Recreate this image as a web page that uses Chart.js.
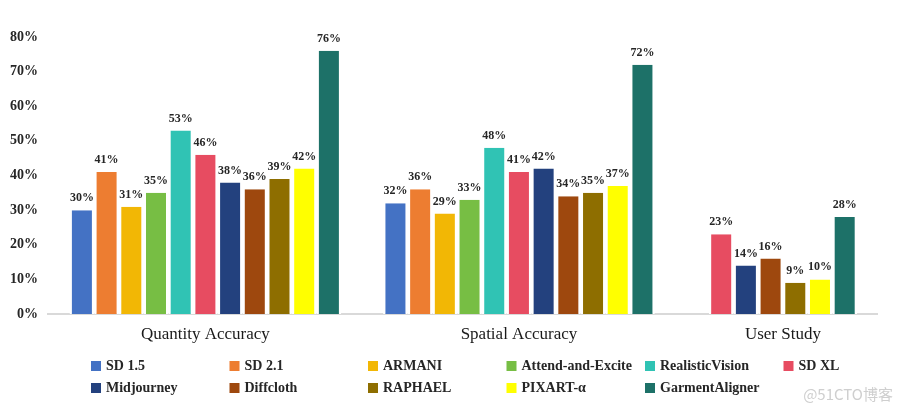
<!DOCTYPE html>
<html>
<head>
<meta charset="utf-8">
<script src="https://cdn.jsdelivr.net/npm/chart.js@4"></script>
<style>
  html, body { margin: 0; padding: 0; background: #fff; }
  #wrap { width: 901px; height: 414px; position: relative; }
</style>
</head>
<body>
<div id="wrap"><canvas id="chart"></canvas></div>
<script>
const categories = ["Quantity Accuracy", "Spatial Accuracy", "User Study"];

const models = [
    "SD 1.5", "SD 2.1", "ARMANI", "Attend-and-Excite", "RealisticVision", "SD XL",
    "Midjourney", "Diffcloth", "RAPHAEL", "PIXART-α", "GarmentAligner"
];

// percent, one entry per model
const quantityAccuracy = [30, 41, 31, 35, 53, 46, 38, 36, 39, 42, 76];
const spatialAccuracy  = [32, 36, 29, 33, 48, 41, 42, 34, 35, 37, 72];
const userStudy        = [null, null, null, null, null, 23, 14, 16, 9, 10, 28];

const colors = [
    "#4472C4", "#ED7D31", "#F2B705", "#77BE44", "#30C3B4", "#E74C61",
    "#23417E", "#9E480E", "#8E6E00", "#FFFF00", "#1D7168"
];

// where each group sits on the x axis (user study group is packed closer)
const groupPos = [0, 1, 1.842];

const FONT = "'Liberation Serif', serif";

const byCategory = [quantityAccuracy, spatialAccuracy, userStudy];

const datasets = models.map((name, i) => ({
    label: name,
    data: groupPos.map((x, c) => ({ x: x, y: byCategory[c][i] })),
    backgroundColor: colors[i],
    borderColor: "#ffffff",
    borderWidth: { left: 2.35, right: 2.35, top: 0, bottom: 0 },
    barThickness: 24.7,
    inflateAmount: 0
}));

const valueLabels = {
    id: "valueLabels",
    afterDatasetsDraw(chart) {
        const ctx = chart.ctx;
        ctx.save();
        ctx.font = "bold 12px " + FONT;
        ctx.fillStyle = "#262626";
        ctx.textAlign = "center";
        ctx.textBaseline = "bottom";
        chart.data.datasets.forEach((ds, i) => {
            chart.getDatasetMeta(i).data.forEach((bar, j) => {
                const v = ds.data[j].y;
                if (v === null) return;
                ctx.fillText(v + "%", bar.x, bar.y - 6);
            });
        });
        ctx.restore();
    }
};

const gridLegend = {
    id: "gridLegend",
    afterDraw(chart) {
        const ctx = chart.ctx;
        ctx.save();
        ctx.font = "bold 14px " + FONT;
        ctx.textBaseline = "middle";
        ctx.textAlign = "left";
        models.forEach((name, i) => {
            const col = i % 6;
            const row = Math.floor(i / 6);
            const x = 91 + col * 138.5;
            const y = 366 + row * 22;
            ctx.fillStyle = colors[i];
            ctx.fillRect(x, y - 5, 10, 10);
            ctx.fillStyle = "#262626";
            ctx.fillText(name, x + 15, y);
        });
        ctx.font = "15px 'Noto Sans CJK SC', sans-serif";
        ctx.fillStyle = "#cfcfcf";
        ctx.textAlign = "right";
        ctx.fillText("@51CTO博客", 893, 394);
        ctx.restore();
    }
};

new Chart(document.getElementById("chart"), {
    type: "bar",
    data: { datasets },
    plugins: [valueLabels, gridLegend],
    options: {
        responsive: true,
        maintainAspectRatio: false,
        animation: false,
        layout: {
            padding: { left: 0, right: 24, top: 37, bottom: 60 }
        },
        datasets: {
            bar: { skipNull: true }
        },
        plugins: {
            legend: { display: false },
            tooltip: { enabled: false }
        },
        scales: {
            x: {
                type: "linear",
                min: -0.502,
                max: 2.142,
                offset: false,
                afterBuildTicks: scale => {
                    scale.ticks = groupPos.map(v => ({ value: v }));
                },
                afterFit: scale => { scale.height = 40; },
                grid: { display: false, drawTicks: false },
                border: { display: true, color: "#d9d9d9", width: 2 },
                ticks: {
                    padding: 10,
                    autoSkip: false,
                    maxRotation: 0,
                    color: "#1a1a1a",
                    font: { family: FONT, size: 17 },
                    callback: (v, i) => categories[i]
                }
            },
            y: {
                min: 0,
                max: 80,
                afterFit: scale => { scale.width = 48; },
                grid: { display: false, drawTicks: false },
                border: { display: false },
                ticks: {
                    stepSize: 10,
                    padding: 10,
                    color: "#262626",
                    font: { family: FONT, size: 14, weight: "bold" },
                    callback: v => v + "%"
                }
            }
        }
    }
});
</script>
</body>
</html>
